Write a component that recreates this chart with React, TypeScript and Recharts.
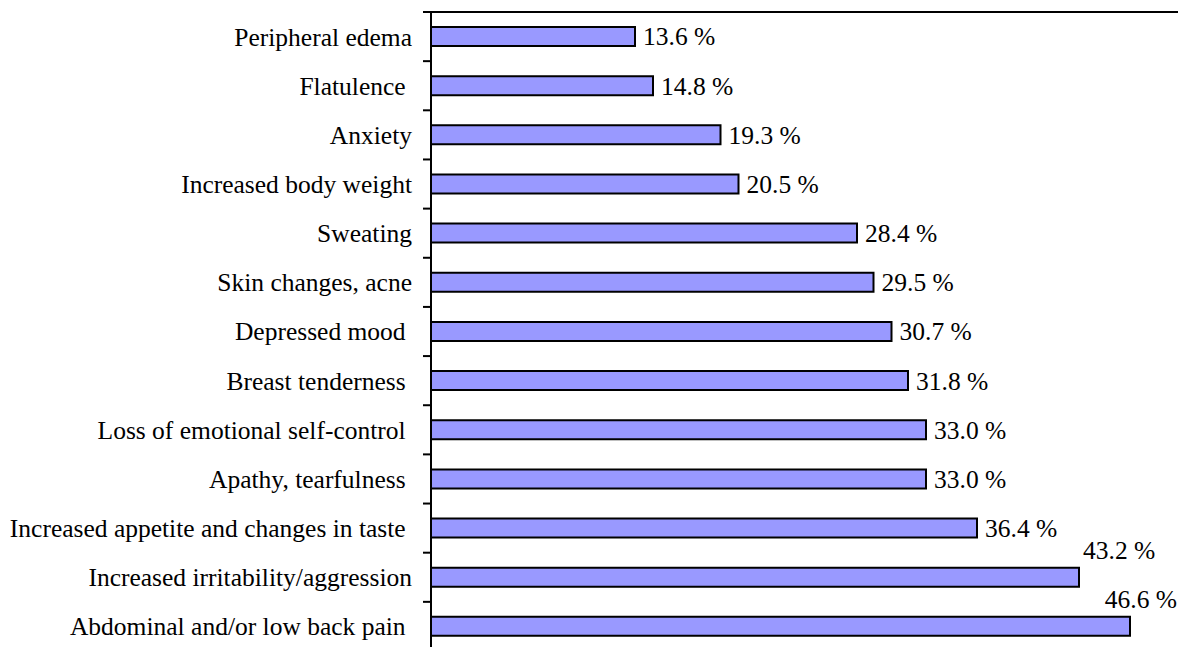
import React from 'react';
import { BarChart, Bar, XAxis, YAxis, LabelList } from 'recharts';

const categories = [
  'Peripheral edema',
  'Flatulence ',
  'Anxiety',
  'Increased body weight',
  'Sweating',
  'Skin changes, acne',
  'Depressed mood ',
  'Breast tenderness ',
  'Loss of emotional self-control ',
  'Apathy, tearfulness ',
  'Increased appetite and changes in taste ',
  'Increased irritability/aggression',
  'Abdominal and/or low back pain ',
];

const percents = [13.6, 14.8, 19.3, 20.5, 28.4, 29.5, 30.7, 31.8, 33.0, 33.0, 36.4, 43.2, 46.6];

const data = categories.map((name, i) => ({ name, value: percents[i] }));

const W = 1178;
const H = 651;
const TOP = 11;
const AXIS_W = 431;
const FONT = "'Liberation Serif'";
const FS = 25.5;
const BAND = (H - TOP - 1) / categories.length;

const textStyle: React.CSSProperties = { fontFamily: FONT, fontSize: FS, fill: '#000' };

const CategoryTick = (props: any) => {
  const { x, y, payload, index } = props;
  const lx1 = x + 11;
  const lx2 = x + 19;
  return (
    <g>
      <text
        x={x}
        y={y}
        dy="0.35em"
        textAnchor="end"
        xmlSpace="preserve"
        style={{ ...textStyle, whiteSpace: 'pre' }}
      >
        {payload.value}
      </text>
      {index === 0 && (
        <line x1={lx1} x2={lx2} y1={y - BAND / 2} y2={y - BAND / 2} stroke="#000" strokeWidth={2} />
      )}
      <line x1={lx1} x2={lx2} y1={y + BAND / 2} y2={y + BAND / 2} stroke="#000" strokeWidth={2} />
    </g>
  );
};

const ValueLabel = (props: any) => {
  const { x, y, width, height, value } = props;
  const txt = Number(value).toFixed(1) + ' %';
  const end = x + width;
  const textW = FS * 2.83;
  if (value < 40) {
    return (
      <text x={end + 8} y={y + height / 2} dy="0.35em" style={textStyle}>
        {txt}
      </text>
    );
  }
  const overflow = end + 4 + textW > W;
  return (
    <text
      x={overflow ? W - 1 : end + 4}
      y={y - 9}
      textAnchor={overflow ? 'end' : 'start'}
      style={textStyle}
    >
      {txt}
    </text>
  );
};

export default function App() {
  return (
    <div style={{ position: 'absolute', top: 0, left: 0, width: W, height: 647, overflow: 'hidden', background: '#fff' }}>
      <BarChart
        width={W}
        height={H}
        data={data}
        layout="vertical"
        margin={{ top: TOP, right: 0, bottom: 0, left: 0 }}
        barCategoryGap={0}
      >
        <XAxis
          type="number"
          orientation="top"
          domain={[0, 49.8]}
          height={1}
          tick={false}
          tickLine={false}
          axisLine={{ stroke: '#000', strokeWidth: 2 }}
        />
        <YAxis
          type="category"
          dataKey="name"
          width={AXIS_W}
          interval={0}
          tickSize={8}
          tickMargin={11}
          tickLine={false}
          axisLine={{ stroke: '#000', strokeWidth: 2 }}
          tick={<CategoryTick />}
        />
        <Bar dataKey="value" fill="#9999FF" stroke="#000" strokeWidth={2} barSize={19} isAnimationActive={false}>
          <LabelList dataKey="value" content={<ValueLabel />} />
        </Bar>
      </BarChart>
    </div>
  );
}
